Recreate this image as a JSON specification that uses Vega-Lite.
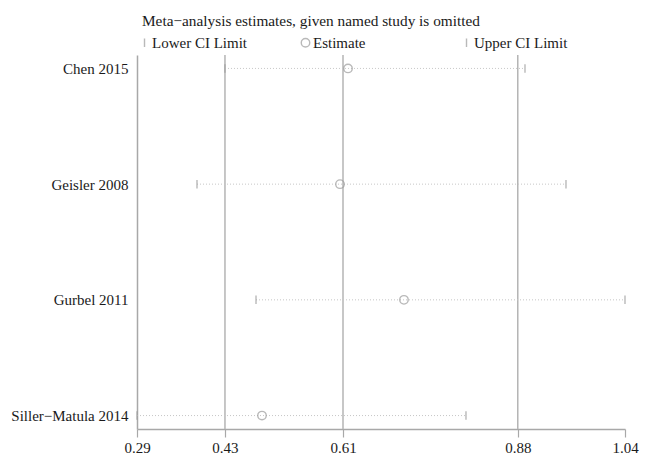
{
  "$schema": "https://vega.github.io/schema/vega-lite/v6.json",
  "width": 488,
  "height": 374,
  "autosize": {"type": "none"},
  "padding": {"left": 137, "top": 55, "right": 22, "bottom": 28},
  "background": "white",
  "title": {
    "text": "Meta−analysis estimates, given named study is omitted",
    "anchor": "start",
    "frame": "group",
    "font": "Liberation Serif",
    "fontSize": 15.3,
    "fontWeight": "normal",
    "color": "#1a1a1a",
    "dx": 5,
    "offset": 6
  },
  "config": {
    "view": {"stroke": null},
    "font": "Liberation Serif"
  },
  "layer": [
    {
      "data": {"values": [{"overall": 0.4252}, {"overall": 0.6066}, {"overall": 0.8752}]},
      "mark": {"type": "rule", "color": "#b4b4b4", "strokeWidth": 1.5},
      "encoding": {
        "x": {"field": "overall", "type": "quantitative"}
      }
    },
    {
      "data": {"name": "est"},
      "mark": {"type": "rule", "color": "#c6c6c6", "strokeDash": [1, 2], "strokeWidth": 1},
      "encoding": {
        "y": {"field": "study", "type": "nominal"},
        "x": {"aggregate": "min", "field": "value", "type": "quantitative"},
        "x2": {"aggregate": "max", "field": "value"}
      }
    },
    {
      "data": {"name": "est"},
      "mark": {"type": "point", "filled": false, "color": "#9c9c9c", "strokeWidth": 1.4, "size": 72},
      "encoding": {
        "y": {"field": "study", "type": "nominal"},
        "x": {"field": "value", "type": "quantitative"},
        "shape": {
          "field": "kind",
          "type": "nominal",
          "scale": {
            "domain": ["Lower CI Limit", "Estimate", "Upper CI Limit"],
            "range": ["M0,-1L0,1", "circle", "M0,-1L0,1"]
          },
          "legend": {
            "title": null,
            "orient": "top",
            "direction": "horizontal",
            "gridAlign": "all",
            "columnPadding": 51,
            "labelFont": "Liberation Serif",
            "labelFontSize": 15,
            "labelColor": "#1a1a1a",
            "labelOffset": 0,
            "symbolSize": 72,
            "symbolStrokeColor": "#9c9c9c",
            "symbolStrokeWidth": 1.4,
            "symbolFillColor": "transparent",
            "offset": 4,
            "padding": 0
          }
        }
      }
    }
  ],
  "datasets": {
    "est": [
      {"study": "Chen 2015", "kind": "Lower CI Limit", "value": 0.4252},
      {"study": "Chen 2015", "kind": "Estimate", "value": 0.6143},
      {"study": "Chen 2015", "kind": "Upper CI Limit", "value": 0.8863},
      {"study": "Geisler 2008", "kind": "Lower CI Limit", "value": 0.3822},
      {"study": "Geisler 2008", "kind": "Estimate", "value": 0.602},
      {"study": "Geisler 2008", "kind": "Upper CI Limit", "value": 0.9493},
      {"study": "Gurbel 2011", "kind": "Lower CI Limit", "value": 0.4729},
      {"study": "Gurbel 2011", "kind": "Estimate", "value": 0.7003},
      {"study": "Gurbel 2011", "kind": "Upper CI Limit", "value": 1.04},
      {"study": "Siller−Matula 2014", "kind": "Lower CI Limit", "value": 0.29},
      {"study": "Siller−Matula 2014", "kind": "Estimate", "value": 0.4821},
      {"study": "Siller−Matula 2014", "kind": "Upper CI Limit", "value": 0.7956}
    ]
  },
  "resolve": {"scale": {"x": "shared", "y": "shared"}},
  "encoding": {
    "x": {
      "type": "quantitative",
      "scale": {"domain": [0.29, 1.04], "nice": false, "zero": false},
      "axis": {
        "title": null,
        "values": [0.29, 0.4252, 0.6066, 0.8752, 1.04],
        "format": ".2f",
        "grid": false,
        "domainColor": "#a8a8a8",
        "domainWidth": 1.5,
        "tickColor": "#a8a8a8",
        "tickWidth": 1.2,
        "tickSize": 8,
        "labelFont": "Liberation Serif",
        "labelFontSize": 15,
        "labelColor": "#1a1a1a",
        "labelPadding": 3,
        "labelFlush": false,
        "labelOverlap": false
      }
    },
    "y": {
      "type": "nominal",
      "sort": ["Chen 2015", "Geisler 2008", "Gurbel 2011", "Siller−Matula 2014"],
      "scale": {"type": "point", "padding": 0.116},
      "axis": {
        "title": null,
        "ticks": false,
        "grid": false,
        "domainColor": "#a8a8a8",
        "domainWidth": 1.5,
        "labelFont": "Liberation Serif",
        "labelFontSize": 15,
        "labelColor": "#1a1a1a",
        "labelPadding": 9
      }
    }
  }
}
